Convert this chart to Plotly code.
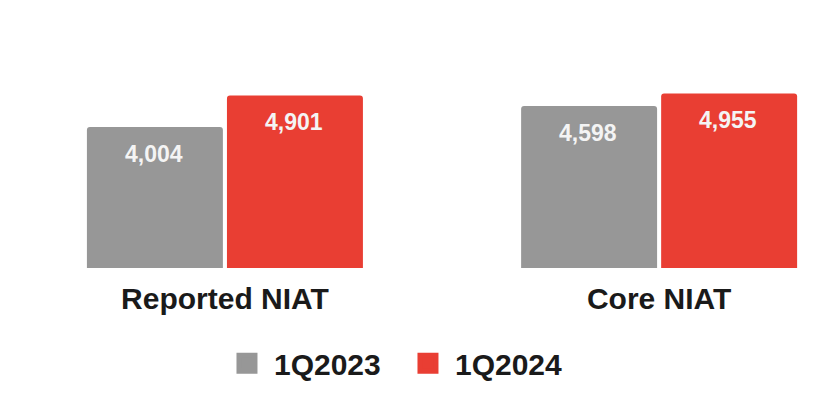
import plotly.graph_objects as go

# NIAT comparison, 1Q2023 vs 1Q2024
categories = ["Reported NIAT", "Core NIAT"]
series_names = ["1Q2023", "1Q2024"]
values_2023 = [4004, 4598]
values_2024 = [4901, 4955]

colors = {"1Q2023": "#979797", "1Q2024": "#E93E33"}
series_values = {"1Q2023": values_2023, "1Q2024": values_2024}

font_family = "Liberation Sans, Arial, sans-serif"

fig = go.Figure()

for name in series_names:
    fig.add_trace(go.Bar(
        x=categories,
        y=series_values[name],
        name=name,
        marker=dict(color=colors[name], line=dict(width=0)),
        showlegend=False,
        hoverinfo="skip",
    ))

# legend entries with larger square swatches
for name in series_names:
    fig.add_trace(go.Scatter(
        x=[None], y=[None],
        mode="markers",
        name=name,
        marker=dict(symbol="square", size=16, color=colors[name],
                    line=dict(color=colors[name], width=5)),
    ))

# value labels inside the top of each bar
bar_offset_px = {"1Q2023": -71, "1Q2024": 69}
annotations = []
for name in series_names:
    for cat, val in zip(categories, series_values[name]):
        annotations.append(dict(
            x=cat, y=val, xref="x", yref="y",
            text=f"{val:,}",
            showarrow=False,
            xanchor="center", yanchor="top",
            xshift=bar_offset_px[name], yshift=-12,
            font=dict(family=font_family, size=23, color="#F4F4F4", weight="bold"),
        ))

fig.update_layout(
    width=815, height=416,
    margin=dict(l=0, r=0, t=0, b=148),
    paper_bgcolor="white",
    plot_bgcolor="white",
    barmode="group",
    bargap=0.355,
    bargroupgap=0.029,
    barcornerradius=3,
    annotations=annotations,
    showlegend=True,
    legend=dict(
        orientation="h",
        x=0.492, xanchor="center",
        y=-0.355, yanchor="middle",
        font=dict(family=font_family, size=30, color="#1A1A1A", weight="bold"),
        itemsizing="trace",
        itemwidth=44,
        entrywidth=122,
        bgcolor="rgba(0,0,0,0)",
    ),
    xaxis=dict(
        range=[-0.518, 1.359],
        showgrid=False, zeroline=False, showline=False,
        ticks="",
        ticklabelstandoff=10,
        tickfont=dict(family=font_family, size=30, color="#1A1A1A", weight="bold"),
        fixedrange=True,
    ),
    yaxis=dict(
        range=[0, 7609],
        visible=False,
        fixedrange=True,
    ),
)

fig.write_html("out.html")
